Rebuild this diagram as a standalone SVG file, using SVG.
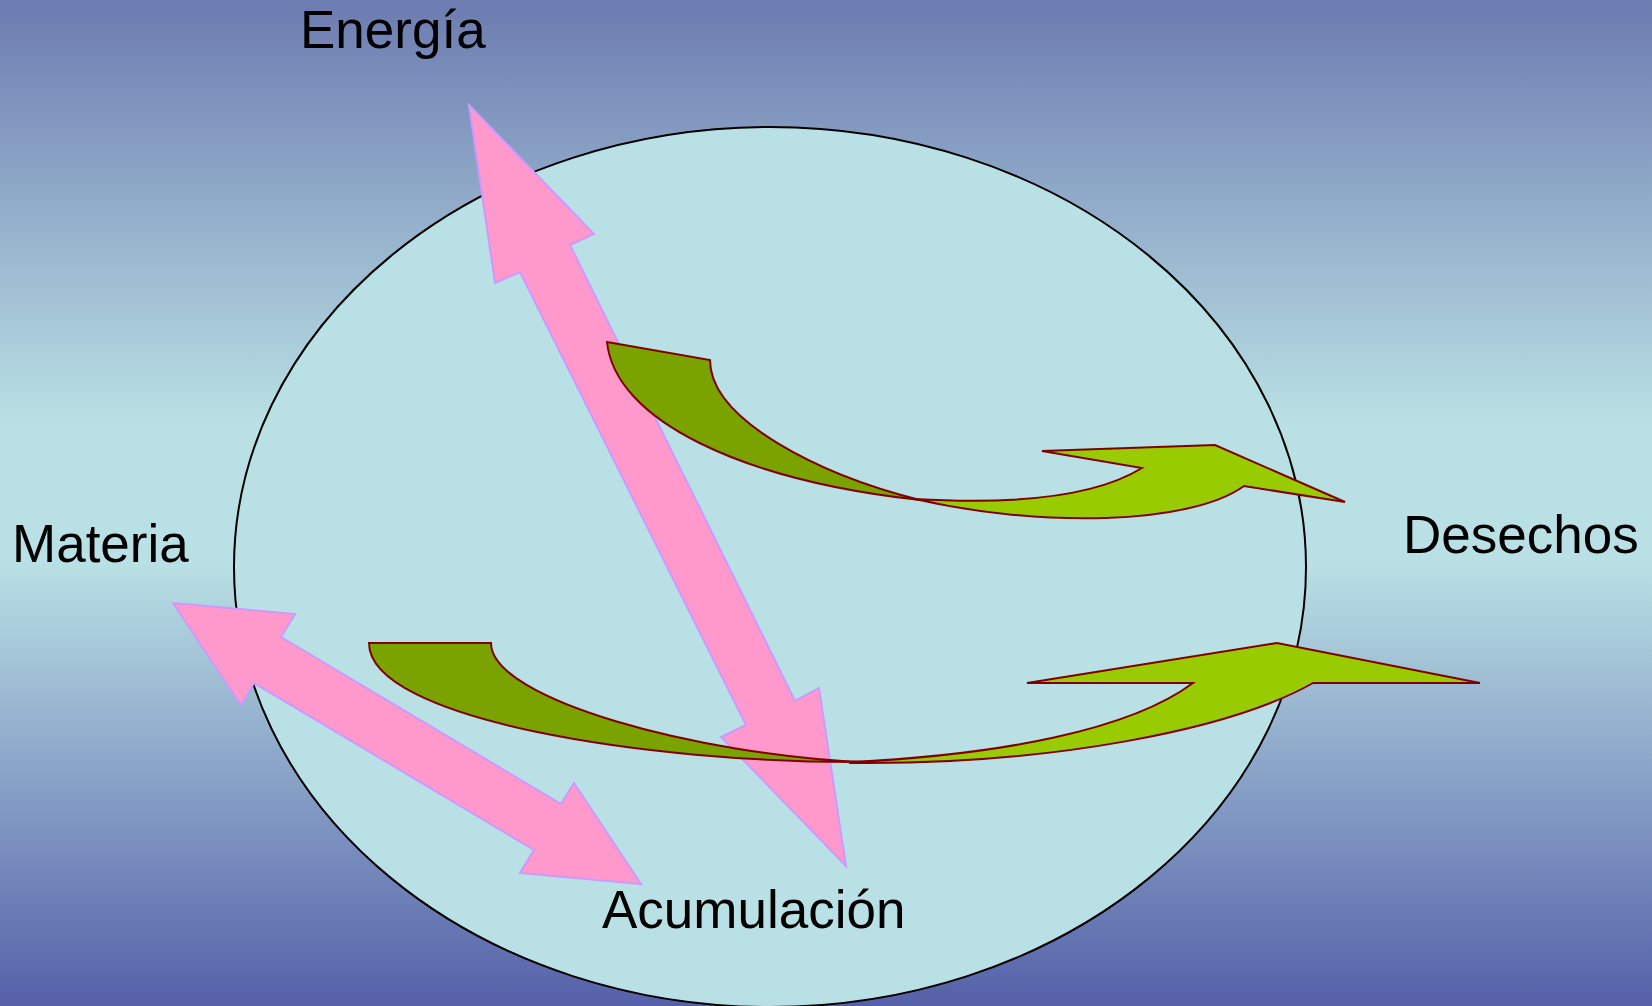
<svg xmlns="http://www.w3.org/2000/svg" width="1652" height="1006" viewBox="0 0 1652 1006">
<defs>
<linearGradient id="bg" x1="0" y1="0" x2="0" y2="1">
<stop offset="0" stop-color="#6c7bb0"/>
<stop offset="0.42" stop-color="#b9e0e4"/>
<stop offset="0.56" stop-color="#b9e0e4"/>
<stop offset="1" stop-color="#5560a8"/>
</linearGradient>
</defs>
<style>
.lbl{font-family:"Liberation Sans",Arial,sans-serif;font-size:53px;fill:#000}
.pink{fill:#ff99cc;stroke:#cc99ff;stroke-width:2;stroke-linejoin:miter}
.dark{fill:#7aa300;stroke:#800000;stroke-width:2}
.light{fill:#99cc00;stroke:#800000;stroke-width:2}
</style>
<rect x="0" y="0" width="1652" height="1006" fill="url(#bg)"/>
<g id="system">
<ellipse cx="770" cy="567" rx="536" ry="440" fill="#b9e0e4" stroke="#000" stroke-width="2"/>
</g>
<g id="connectors">
<polygon id="arrow-energia" class="pink" points="469,105 594,234 570,245 795,701 819,688 846,866 721,737 746,725 520,272 495,283"/>
<polygon id="arrow-materia" class="pink" points="173,603 295,614 281,637 561,804 574,783 641,884 520,873 534,850 254,683 241,705"/>
<path id="upper-back" class="dark" d="M607,342 L710,360 C710,420 820,475 920,500 C740,480 615,420 607,342 Z"/>
<path id="upper-front" class="light" d="M915,499 C1000,504 1090,500 1142,468 L1042,451 L1215,445 L1345,502 L1244,486 C1190,525 1040,528 915,499 Z"/>
<path id="lower-back" class="dark" d="M369,643 L491,643 C491,700 700,755 862,762 C650,763 369,720 369,643 Z"/>
<path id="lower-front" class="light" d="M850,762 C1000,755 1130,730 1193,683 L1027,683 L1277,643 L1480,683 L1313,683 C1230,730 1050,765 850,763 Z"/>
</g>
<g id="energia"><text class="lbl" x="300" y="48">Energía</text></g>
<g id="materia"><text class="lbl" x="12" y="562">Materia</text></g>
<g id="desechos"><text class="lbl" x="1403" y="553">Desechos</text></g>
<g id="acumulacion"><text class="lbl" x="602" y="928">Acumulación</text></g>
</svg>
